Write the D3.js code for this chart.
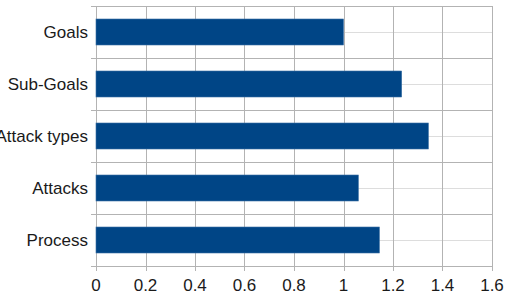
<!DOCTYPE html>
<html>
<head>
<meta charset="utf-8">
<script src="https://cdn.jsdelivr.net/npm/d3@7"></script>
<style>
  body { margin: 0; background: #fff; }
  text { font-family: "Liberation Sans", Arial, sans-serif; fill: #1a1a1a; }
</style>
</head>
<body>
<script>
// chart data
const categories = ["Goals", "Sub-Goals", "Attack types", "Attacks", "Process"];
const values = [1.0, 1.235, 1.343, 1.06, 1.145];
const xTicks = [0, 0.2, 0.4, 0.6, 0.8, 1, 1.2, 1.4, 1.6];

const width = 507, height = 298;
const margin = {top: 6, right: 15, bottom: 32, left: 96};

const svg = d3.select("body").append("svg")
    .attr("width", width)
    .attr("height", height);

const x = d3.scaleLinear()
    .domain([0, 1.6])
    .range([margin.left, width - margin.right]);

const y = d3.scaleBand()
    .domain(categories)
    .range([margin.top, height - margin.bottom])
    .paddingInner(0.5)
    .paddingOuter(0.25);

const grid = svg.append("g").attr("stroke", "#b3b3b3").attr("stroke-width", 1);

// faint mid-category lines
grid.selectAll("line.minor")
    .data(categories)
    .enter().append("line")
    .attr("class", "minor")
    .attr("x1", x(0)).attr("x2", x(1.6))
    .attr("y1", d => Math.round(y(d) + y.bandwidth() / 2) + 0.5)
    .attr("y2", d => Math.round(y(d) + y.bandwidth() / 2) + 0.5)
    .attr("stroke", "#dddddd");

// vertical grid lines
grid.selectAll("line.v")
    .data(xTicks)
    .enter().append("line")
    .attr("class", "v")
    .attr("x1", d => Math.round(x(d)) + 0.5)
    .attr("x2", d => Math.round(x(d)) + 0.5)
    .attr("y1", margin.top)
    .attr("y2", height - margin.bottom + 5);

// category boundary lines (with ticks on the left)
const step = y.step();
const bounds = d3.range(categories.length + 1).map(i => margin.top + i * step);
grid.selectAll("line.h")
    .data(bounds)
    .enter().append("line")
    .attr("class", "h")
    .attr("x1", x(0) - 5)
    .attr("x2", x(1.6))
    .attr("y1", d => Math.round(d) + 0.5)
    .attr("y2", d => Math.round(d) + 0.5);

// bars
svg.append("g")
    .selectAll("rect")
    .data(categories)
    .enter().append("rect")
    .attr("x", x(0))
    .attr("y", d => y(d))
    .attr("width", (d, i) => x(values[i]) - x(0))
    .attr("height", y.bandwidth())
    .attr("fill", "#004586")
    .attr("stroke", "#3a6fa3")
    .attr("stroke-width", 0.6);

// category labels
svg.append("g")
    .selectAll("text")
    .data(categories)
    .enter().append("text")
    .attr("x", x(0) - 8)
    .attr("y", d => y(d) + y.bandwidth() / 2)
    .attr("dy", "0.35em")
    .attr("text-anchor", "end")
    .style("font-size", "17px")
    .text(d => d);

// x tick labels
svg.append("g")
    .selectAll("text")
    .data(xTicks)
    .enter().append("text")
    .attr("x", d => x(d))
    .attr("y", height - margin.bottom + 25)
    .attr("text-anchor", "middle")
    .style("font-size", "17px")
    .text(d => d3.format("~g")(d));
</script>
</body>
</html>
